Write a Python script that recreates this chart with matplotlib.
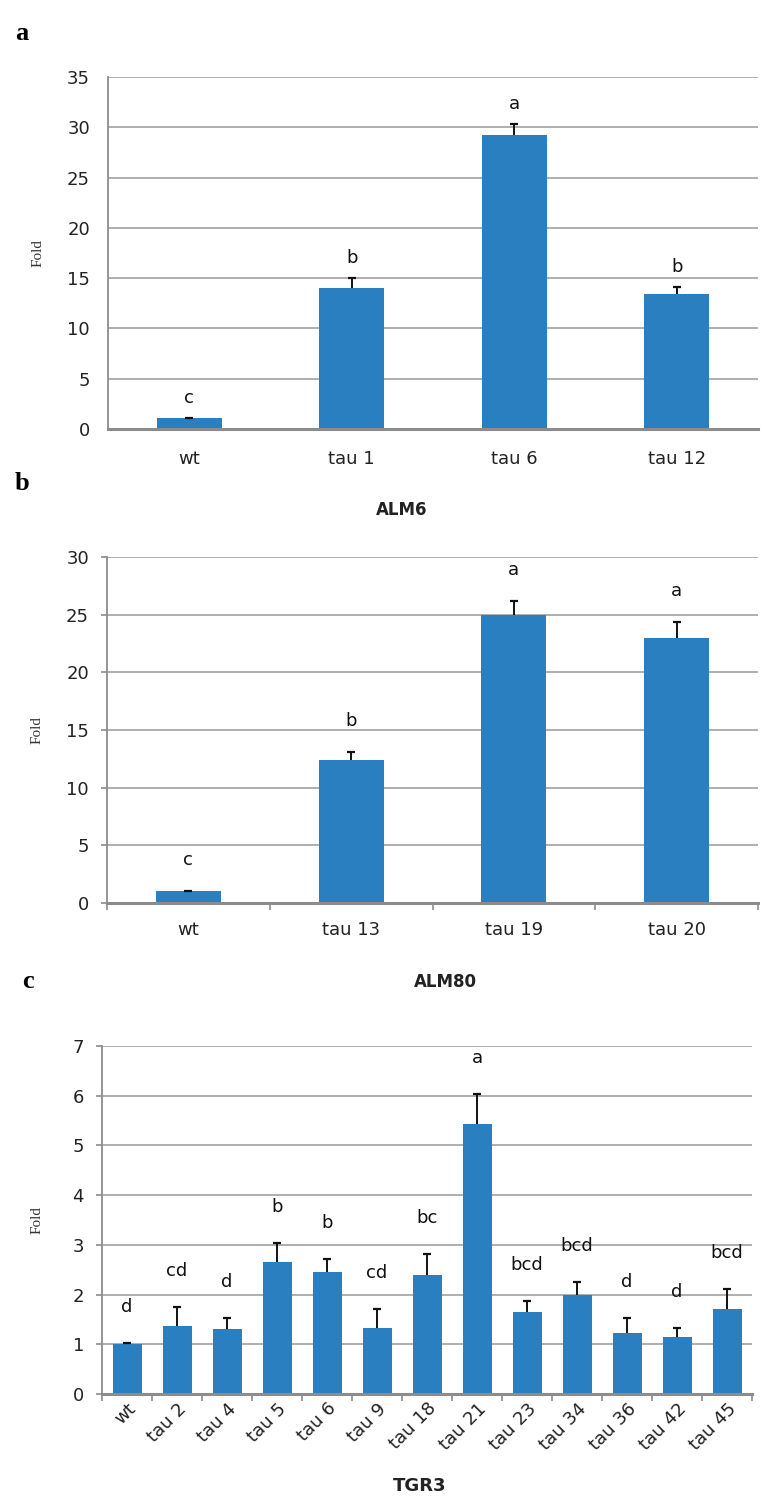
import numpy as np
import matplotlib
matplotlib.use('Agg')
from matplotlib import pyplot as plt

# panel a - ALM6
a_labels = ['wt', 'tau 1', 'tau 6', 'tau 12']
a_fold = [1.05, 14.0, 29.2, 13.4]
a_err = [0.05, 1.05, 1.15, 0.75]
a_groups = ['c', 'b', 'a', 'b']

# panel b - ALM80
b_labels = ['wt', 'tau 13', 'tau 19', 'tau 20']
b_fold = [1.0, 12.4, 25.0, 22.95]
b_err = [0.08, 0.65, 1.15, 1.45]
b_groups = ['c', 'b', 'a', 'a']

# panel c - TGR3
c_labels = ['wt', 'tau 2', 'tau 4', 'tau 5', 'tau 6', 'tau 9', 'tau 18',
            'tau 21', 'tau 23', 'tau 34', 'tau 36', 'tau 42', 'tau 45']
c_fold = [1.0, 1.37, 1.31, 2.66, 2.46, 1.33, 2.40, 5.43, 1.64, 1.99, 1.23, 1.15, 1.70]
c_err = [0.02, 0.38, 0.22, 0.38, 0.26, 0.37, 0.42, 0.60, 0.24, 0.26, 0.29, 0.18, 0.41]
c_groups = ['d', 'cd', 'd', 'b', 'b', 'cd', 'bc', 'a', 'bcd', 'bcd', 'd', 'd', 'bcd']

BLUE = '#2A7FC0'
GRID = '#A8A8A8'
SPINE = '#8C8C8C'
SANS = ['DejaVu Sans']
SERIF = ['Liberation Serif', 'DejaVu Serif']

W, H = 768, 1508
fig = plt.figure(figsize=(W / 100, H / 100), dpi=100)


def px_axes(left, top, right, bottom):
    return fig.add_axes([left / W, 1 - bottom / H, (right - left) / W, (bottom - top) / H])


def draw_panel(ax, labels, fold, err, groups, ymax, ystep, width, letter_off,
               yticks_out, xticks_out, rotate=False):
    x = np.arange(len(labels))
    lower = [0] * len(err)
    ax.bar(x, fold, width=width, color=BLUE, zorder=3)
    eb = ax.errorbar(x, fold, yerr=[lower, err], fmt='none', ecolor='#111111',
                     elinewidth=1.4, capsize=3, capthick=1.6, zorder=4)
    # only the upper cap, like the Excel original
    eb[1][0].set_visible(False)
    for xi, f, e, g in zip(x, fold, err, groups):
        ax.annotate(g, (xi, f + e), xytext=(0, letter_off), textcoords='offset pixels',
                    ha='center', va='center', fontsize=13, color='#111111', family=SANS)
    ax.set_xlim(-0.5, len(labels) - 0.5)
    ax.set_ylim(0, ymax)
    ax.set_yticks(np.arange(0, ymax + 0.01, ystep))
    ax.yaxis.grid(True, color=GRID, linewidth=1.3, zorder=0)
    ax.set_axisbelow(True)
    for s in ['top', 'right']:
        ax.spines[s].set_visible(False)
    ax.spines['left'].set_color(SPINE)
    ax.spines['left'].set_linewidth(1.3)
    ax.spines['bottom'].set_color(SPINE)
    ax.spines['bottom'].set_linewidth(2.2)
    ax.spines['bottom'].set_zorder(5)
    if yticks_out:
        ax.tick_params(axis='y', length=4, width=1.2, color=SPINE, pad=9)
    else:
        ax.tick_params(axis='y', length=0, pad=13)
    ax.tick_params(axis='y', labelsize=13, labelcolor='#222222')
    # category boundaries as ticks, labels in the middle
    ax.set_xticks(np.arange(len(labels) + 1) - 0.5)
    ax.set_xticklabels([])
    ax.set_xticks(x, minor=True)
    if xticks_out:
        ax.tick_params(axis='x', which='major', length=5, width=1.2, color=SPINE)
    else:
        ax.tick_params(axis='x', which='major', length=0)
    ax.tick_params(axis='x', which='minor', length=0, labelsize=13, labelcolor='#222222')
    if rotate:
        ax.set_xticklabels(labels, minor=True, rotation=45, ha='right',
                           rotation_mode='anchor')
        ax.tick_params(axis='x', which='minor', pad=4)
    else:
        ax.set_xticklabels(labels, minor=True)
        ax.tick_params(axis='x', which='minor', pad=15 if not xticks_out else 13)
    for t in ax.get_yticklabels() + ax.get_xticklabels(minor=True):
        t.set_family(SANS)
    ax.set_ylabel('Fold', family=SERIF, fontsize=11, color='#333333')


ax1 = px_axes(108, 77, 758, 429)
draw_panel(ax1, a_labels, a_fold, a_err, a_groups, 35, 5, 0.4, 20, False, False)
ax1.yaxis.set_label_coords(-0.098, 0.5)

ax2 = px_axes(107, 557, 758, 903)
draw_panel(ax2, b_labels, b_fold, b_err, b_groups, 30, 5, 0.4, 31, True, True)
ax2.yaxis.set_label_coords(-0.098, 0.5)

ax3 = px_axes(102, 1046, 752, 1394)
draw_panel(ax3, c_labels, c_fold, c_err, c_groups, 7, 1, 0.58, 36, True, True, rotate=True)
ax3.yaxis.set_label_coords(-0.09, 0.5)

fig.text(22 / W, 1 - 33 / H, 'a', family=SERIF, fontsize=19, weight='bold',
         ha='center', va='center')
fig.text(22 / W, 1 - 484 / H, 'b', family=SERIF, fontsize=19, weight='bold',
         ha='center', va='center')
fig.text(28 / W, 1 - 982 / H, 'c', family=SERIF, fontsize=19, weight='bold',
         ha='center', va='center')

fig.text(402 / W, 1 - 510 / H, 'ALM6', family=SANS, fontsize=12, weight='bold',
         ha='center', va='center', color='#222222')
fig.text(445 / W, 1 - 982 / H, 'ALM80', family=SANS, fontsize=12, weight='bold',
         ha='center', va='center', color='#222222')
fig.text(420 / W, 1 - 1486 / H, 'TGR3', family=SANS, fontsize=13, weight='bold',
         ha='center', va='center', color='#222222')

fig.savefig('out.png', dpi=100, facecolor='white')
